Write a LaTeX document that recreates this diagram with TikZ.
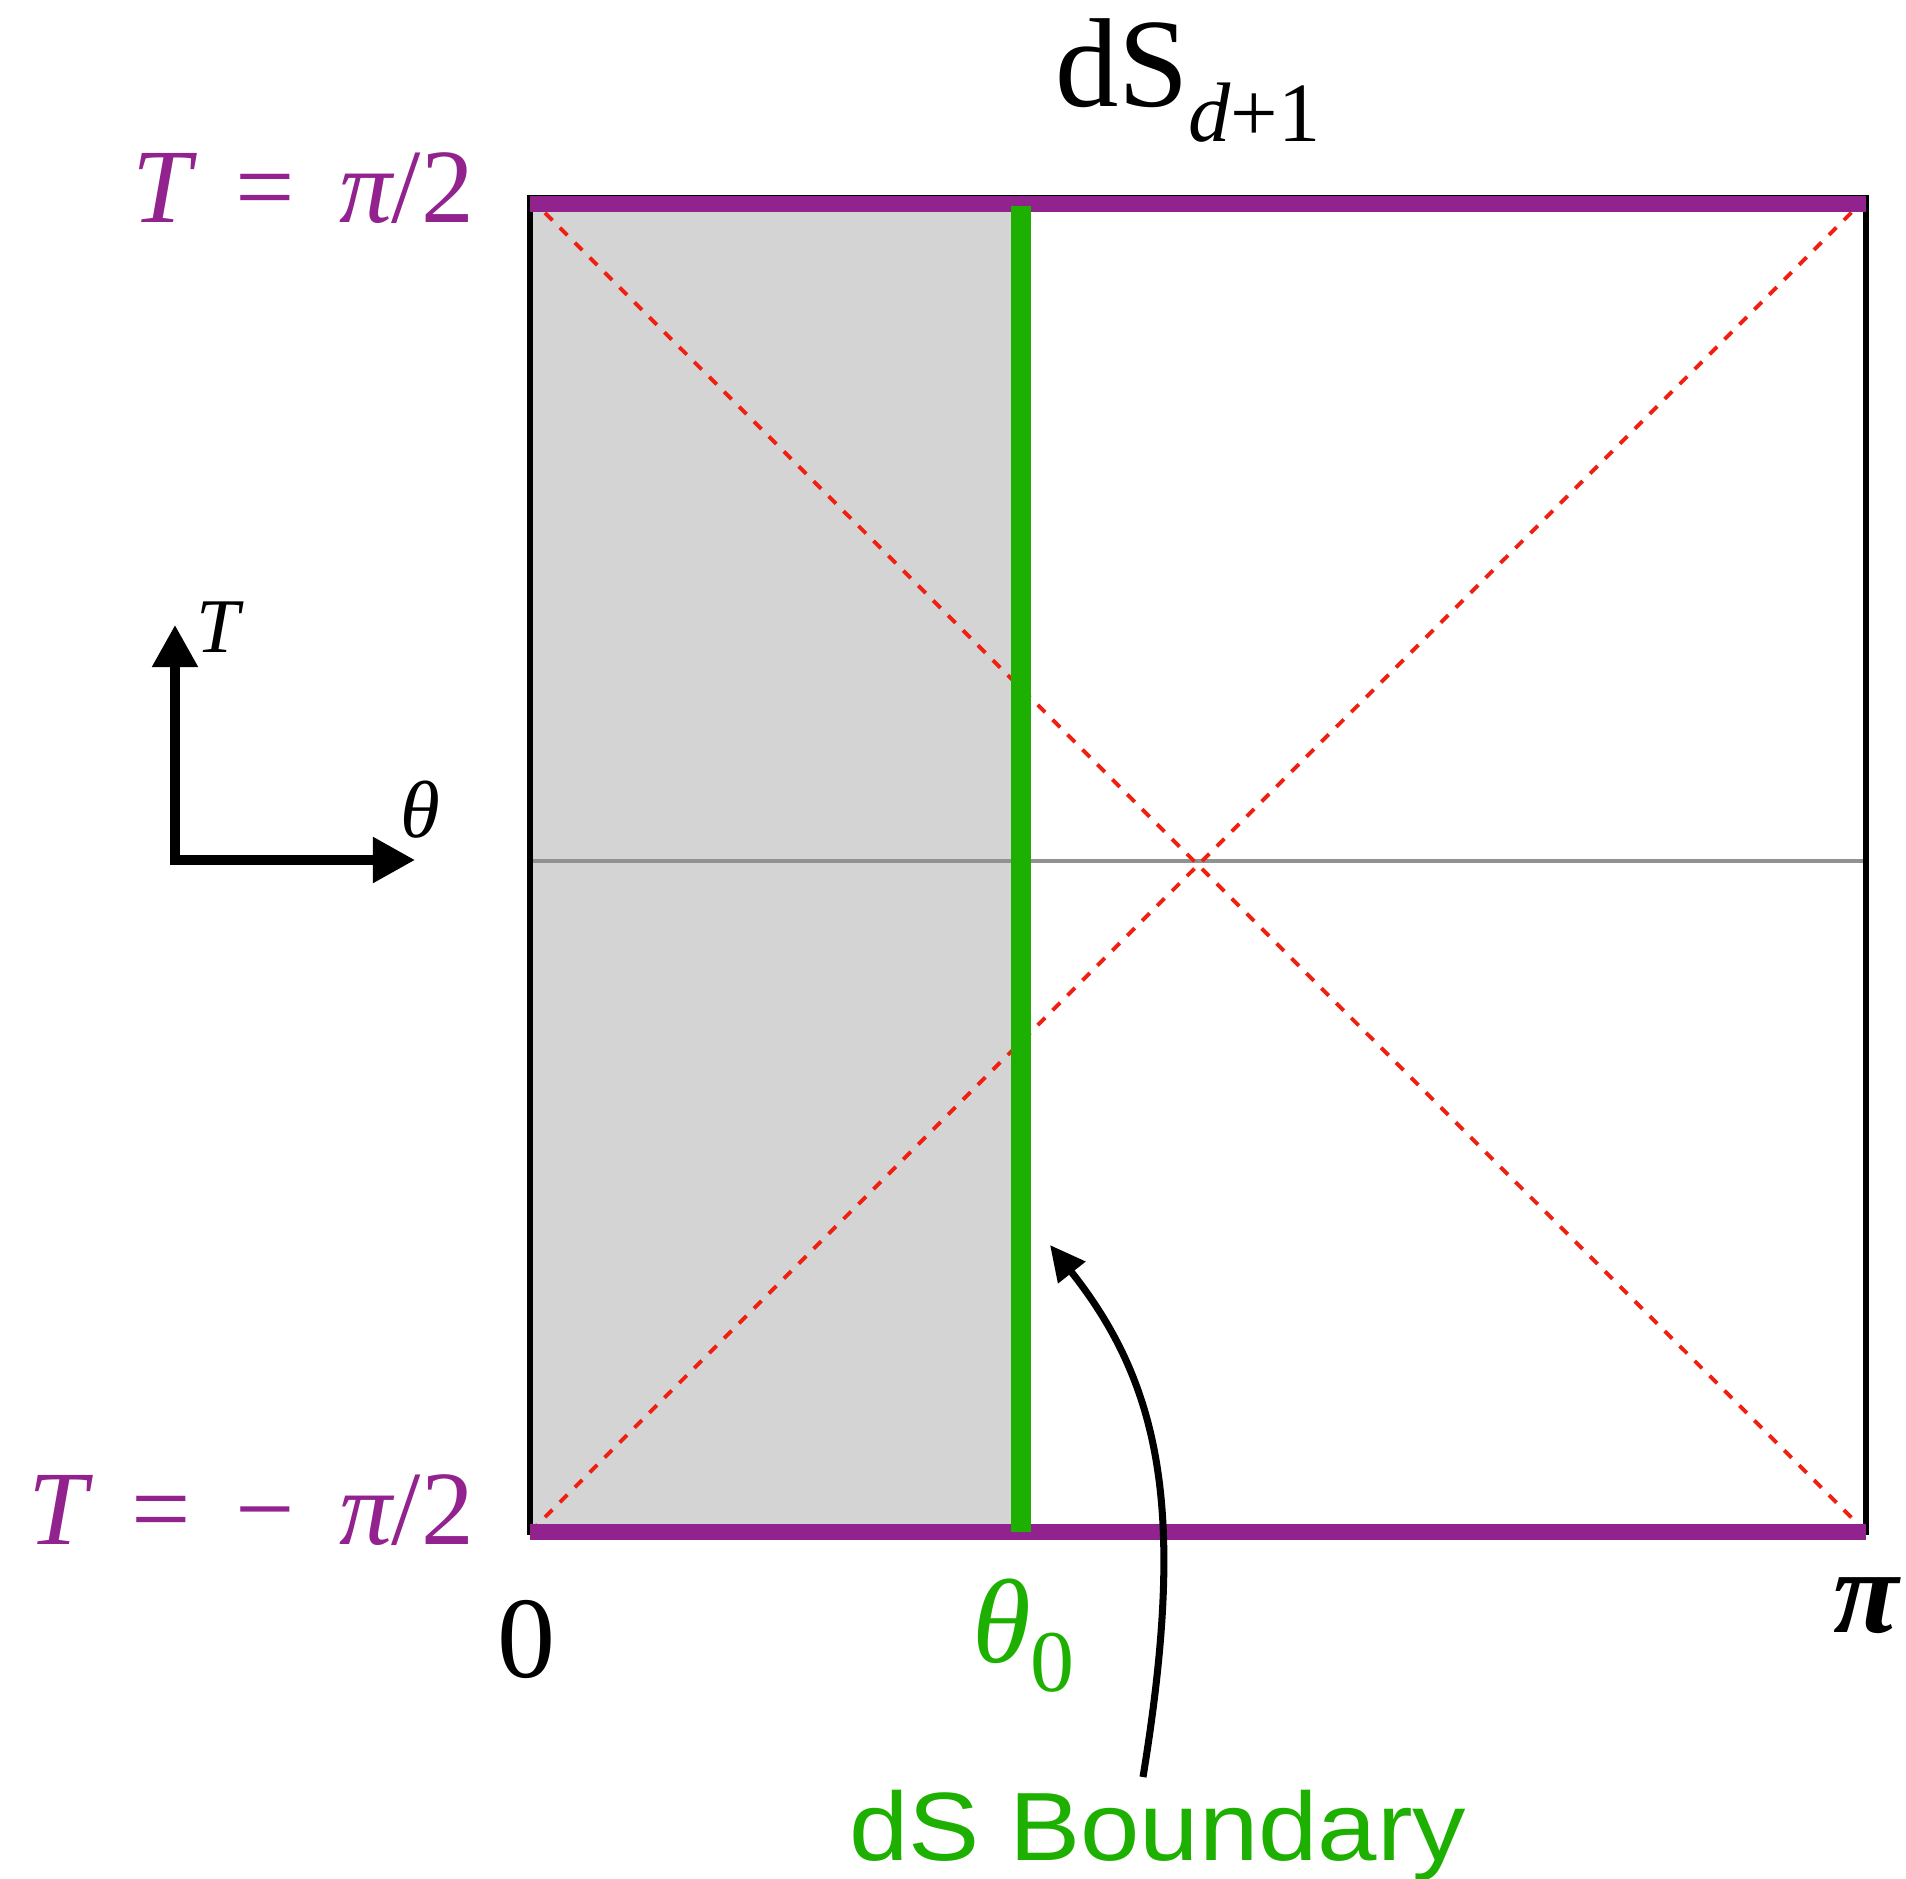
\documentclass[tikz,border=0pt]{standalone}
\usepackage{fontspec}
\setmainfont{Liberation Serif}
\setsansfont{Liberation Sans}
\usetikzlibrary{arrows.meta}
\definecolor{dspurple}{RGB}{146,34,142}
\definecolor{dsgreen}{RGB}{30,176,0}
\definecolor{dsred}{RGB}{240,32,16}
\definecolor{dsgray}{RGB}{212,212,212}
\definecolor{midgray}{RGB}{145,145,145}
\newcommand{\fsz}[1]{\fontsize{#1}{#1}\selectfont}
\newcommand{\wsp}{\hspace{0.42em}}
\begin{document}
\begin{tikzpicture}[x=0.01cm,y=-0.01cm,
  frame/.style={line width=1.5pt,black},
  midline/.style={line width=1.1pt,midgray},
  nullray/.style={line width=1.1pt,dsred,dash pattern=on 3pt off 3pt},
  purpleline/.style={line width=4.6pt,dspurple},
  greenline/.style={line width=5.8pt,dsgreen},
  axisarrow/.style={line width=2.6pt,black,line join=miter,{Triangle[length=12pt,width=12.5pt]}-{Triangle[length=12pt,width=12.5pt]}},
  curvearrow/.style={line width=2pt,black,-{Triangle[length=10pt,width=9.5pt]}},
  lbl/.style={inner sep=0pt,outer sep=0pt}
]
\useasboundingbox (0,0) rectangle (1906,1879);
\coordinate (TL) at (530,198);
\coordinate (TR) at (1866,198);
\coordinate (BL) at (530,1532);
\coordinate (BR) at (1866,1532);
\coordinate (GT) at (1021,206);
\coordinate (GB) at (1021,1532);
\coordinate (ML) at (530,861);
\coordinate (MR) at (1866,861);
\coordinate (PTL) at (530,204);
\coordinate (PTR) at (1866,204);
% shaded region
\fill[dsgray] (TL) rectangle (GB);
% middle slice
\draw[midline] (ML) -- (MR);
% null rays
\draw[nullray] (TL) -- (BR);
\draw[nullray] (BL) -- (TR);
% frame
\draw[frame] (BL) -- (TL) -- (TR) -- (BR) -- cycle;
% future/past boundaries
\draw[purpleline] (PTL) -- (PTR);
\draw[purpleline] (BL) -- (BR);
% dS boundary
\draw[greenline] (GT) -- (GB);
% title
\node[lbl,anchor=base west] (title) at (1055,107)
  {\fsz{36pt}dS\raisebox{-9.8pt}{\fsz{24pt}\itshape d\upshape+1}};
% T labels
\node[lbl,anchor=base east,text=dspurple] (Ttop) at (474,222)
  {\fsz{30pt}\itshape T\upshape\wsp=\wsp\itshape π\upshape/2};
\node[lbl,anchor=base east,text=dspurple] (Tbot) at (474,1544)
  {\fsz{30pt}\itshape T\upshape\wsp=\wsp−\wsp\itshape π\upshape/2};
% theta labels
\node[lbl,anchor=base] (zero) at (527,1677) {\fsz{33pt}0};
\node[lbl,anchor=base west,text=dsgreen] (theta0) at (972,1662)
  {\fsz{34pt}\itshape θ\upshape\raisebox{-8.5pt}{\fsz{25pt}0}};
\node[lbl,anchor=base west] (piL) at (1833,1632) {\fsz{34pt}\bfseries\itshape π};
% axes
\coordinate (AO) at (175,860);
\coordinate (AT) at (175,625);
\coordinate (AX) at (415,860);
\draw[axisarrow] (AT) -- (AO) -- (AX);
\node[lbl,anchor=base west] (Tax) at (196,652) {\fsz{22pt}\itshape T};
\node[lbl,anchor=base west] (thax) at (400,837) {\fsz{23pt}\itshape θ};
% dS boundary label and arrow
\node[lbl,anchor=base west,text=dsgreen] (bdy) at (849,1860)
  {\scalebox{1.1}[1]{\sffamily\fsz{27.6pt}dS Boundary}};
\coordinate (arrS) at (1143,1777);
\coordinate (arrE) at (1050,1245);
\draw[curvearrow] (arrS) .. controls (1185,1520) and (1165,1390) .. (arrE);
\end{tikzpicture}
\end{document}
